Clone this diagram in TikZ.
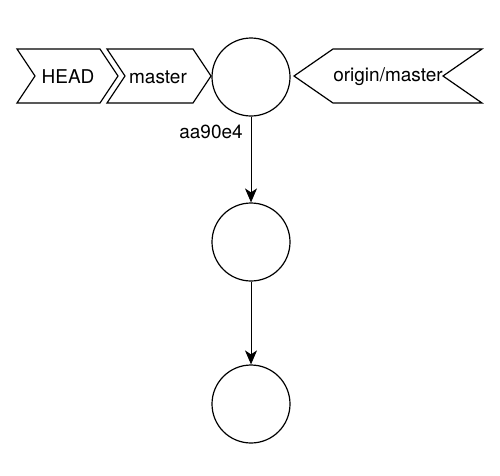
\documentclass[tikz,border=0pt]{standalone}
\usepackage{fontspec}
\setmainfont{TeX Gyre Heros}
\usetikzlibrary{arrows.meta}
\def\chevron(#1:#2:#3){\draw[flag] (#1,49) -- (#2,49) -- ({#2+#3},76) -- (#2,103) -- (#1,103) -- ({#1+#3},76) -- cycle;}
\def\revchevron(#1:#2:#3){\draw[flag] (#1,49) -- (#2,49) -- ({#2-#3},76) -- (#2,103) -- (#1,103) -- ({#1-#3},76) -- cycle;}
\tikzset{
	flag/.style={line width=1.2pt, line join=miter},
	commit/.style={draw, circle, line width=1.2pt, minimum size=78pt, inner sep=0pt},
	lbl/.style={inner sep=0pt, font=\fontsize{19}{21}\selectfont},
	parent/.style={line width=1pt, -{Stealth[length=14pt, width=12pt, inset=4pt]}}
}
\begin{document}
\begin{tikzpicture}[x=1pt, y=-1pt]
	%%%%% START %%%%%
	\useasboundingbox (0,0) rectangle (500,475);
	
	\chevron(17:100:18);
	\chevron(107:193:18);
	\revchevron(333:482:39);
	
	\node[lbl] (head) at (68,77) {HEAD};
	\node[lbl] (master) at (158,77) {master};
	\node[lbl] (origin) at (388,77) {origin/master};
	
	\node[commit] (c1) at (251,77) {};
	\node[commit] (c2) at (251,242) {};
	\node[commit] (c3) at (251,404) {};
	
	\node[lbl] (hash) at (211,132) {aa90e4};
	
	\draw[parent] (c1) -- (c2);
	\draw[parent] (c2) -- (c3);
	%%%%% END %%%%%
\end{tikzpicture}
\end{document}
